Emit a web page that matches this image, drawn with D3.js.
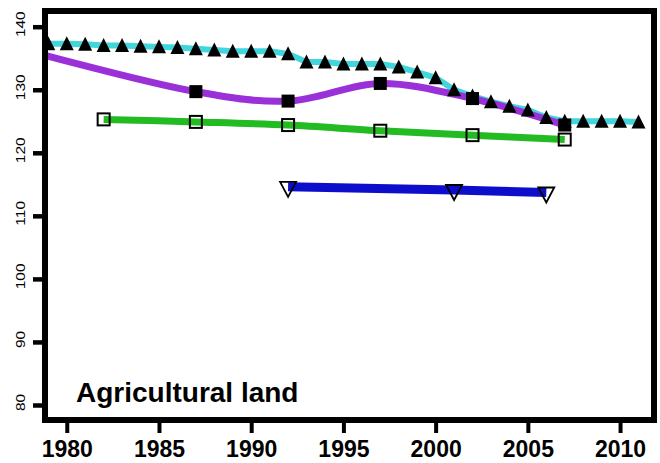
<!DOCTYPE html>
<html>
<head>
<meta charset="utf-8">
<script src="https://cdn.jsdelivr.net/npm/d3@7"></script>
<style>
  html, body { margin: 0; padding: 0; background: #ffffff; }
  svg { display: block; }
  text { font-family: "Liberation Sans", Arial, sans-serif; fill: #000; }
</style>
</head>
<body>
<svg id="chart" width="660" height="463"></svg>
<script>
// Annual series (cyan line, filled triangles)
const annualYears = [1979, 1980, 1981, 1982, 1983, 1984, 1985, 1986, 1987, 1988, 1989,
  1990, 1991, 1992, 1993, 1994, 1995, 1996, 1997, 1998, 1999, 2000, 2001, 2002, 2003,
  2004, 2005, 2006, 2007, 2008, 2009, 2010, 2011];
const annualValues = [137.3, 137.3, 137.2, 137.0, 137.0, 136.9, 136.8, 136.7, 136.5, 136.3, 136.1,
  136.1, 136.1, 135.7, 134.4, 134.4, 134.1, 134.1, 134.1, 133.6, 132.8, 131.9, 130.0, 129.0, 128.1,
  127.4, 126.8, 125.6, 125.0, 125.0, 125.0, 125.0, 124.9];

// Five-yearly series (purple line, filled squares)
const purpleYears = [1977, 1987, 1992, 1997, 2002, 2007];
const purpleValues = [136.9, 129.7, 128.2, 131.0, 128.6, 124.4];

// Five-yearly series (green line, open squares)
const greenYears = [1982, 1987, 1992, 1997, 2002, 2007];
const greenValues = [125.3, 124.9, 124.4, 123.5, 122.8, 122.1];

// Survey series (blue line, open down triangles)
const blueYears = [1992, 2001, 2006];
const blueValues = [114.6, 114.1, 113.7];

const xTicks = [1980, 1985, 1990, 1995, 2000, 2005, 2010];
const yTicks = [80, 90, 100, 110, 120, 130, 140];
const panelLabel = "Agricultural land";

const frame = { left: 45, top: 11, right: 654, bottom: 420 };
const svg = d3.select("#chart");

const x = d3.scaleLinear().domain([1978.82, 2011.84]).range([frame.left, frame.right]);
const y = d3.scaleLinear().domain([77.62, 142.49]).range([frame.bottom, frame.top]);

svg.append("defs").append("clipPath").attr("id", "plotClip")
  .append("rect")
  .attr("x", frame.left).attr("y", frame.top)
  .attr("width", frame.right - frame.left).attr("height", frame.bottom - frame.top);

const plot = svg.append("g").attr("clip-path", "url(#plotClip)");

const pts = (yrs, vals) => yrs.map((yr, i) => [yr, vals[i]]);
const annual = pts(annualYears, annualValues);
const purple = pts(purpleYears, purpleValues);
const green = pts(greenYears, greenValues);
const blue = pts(blueYears, blueValues);

const straight = d3.line().x(d => x(d[0])).y(d => y(d[1]));
const smooth = d3.line().x(d => x(d[0])).y(d => y(d[1])).curve(d3.curveCatmullRom);

plot.append("path").attr("d", straight(annual))
  .attr("fill", "none").attr("stroke", "#42d6dc").attr("stroke-width", 6);
plot.append("path").attr("d", smooth(purple))
  .attr("fill", "none").attr("stroke", "#9a30d8").attr("stroke-width", 7);
plot.append("path").attr("d", smooth(green))
  .attr("fill", "none").attr("stroke", "#22bb22").attr("stroke-width", 7);
plot.append("path").attr("d", straight(blue))
  .attr("fill", "none").attr("stroke", "#0d0dcc").attr("stroke-width", 9);

// filled up-triangles
plot.append("g").selectAll("path").data(annual).join("path")
  .attr("transform", d => `translate(${x(d[0])},${y(d[1])})`)
  .attr("d", "M0,-7.5L7,6.5L-7,6.5Z")
  .attr("fill", "#000");

// filled squares
plot.append("g").selectAll("rect").data(purple).join("rect")
  .attr("x", d => x(d[0]) - 6.5).attr("y", d => y(d[1]) - 6.5)
  .attr("width", 13).attr("height", 13)
  .attr("fill", "#000");

// open squares
plot.append("g").selectAll("rect").data(green).join("rect")
  .attr("x", d => x(d[0]) - 6).attr("y", d => y(d[1]) - 6)
  .attr("width", 12).attr("height", 12)
  .attr("fill", "none").attr("stroke", "#000").attr("stroke-width", 2);

// open down-triangles
plot.append("g").selectAll("path").data(blue).join("path")
  .attr("transform", d => `translate(${x(d[0])},${y(d[1])})`)
  .attr("d", "M-8,-5L8,-5L0,10Z")
  .attr("fill", "none").attr("stroke", "#000").attr("stroke-width", 1.8);

// axes
const xAxis = svg.append("g")
  .attr("transform", `translate(0,${frame.bottom})`)
  .call(d3.axisBottom(x).tickValues(xTicks).tickFormat(d3.format("d"))
    .tickSize(13).tickPadding(8));
xAxis.select(".domain").remove();
xAxis.selectAll(".tick line").attr("stroke", "#000").attr("stroke-width", 4);
xAxis.selectAll(".tick text")
  .attr("font-size", 23).attr("font-weight", "bold")
  .attr("font-family", "'Liberation Sans', Arial, sans-serif").attr("fill", "#000");

const yAxis = svg.append("g")
  .attr("transform", `translate(${frame.left},0)`)
  .call(d3.axisLeft(y).tickValues(yTicks).tickFormat(d3.format("d")).tickSize(12));
yAxis.select(".domain").remove();
yAxis.selectAll(".tick line").attr("stroke", "#000").attr("stroke-width", 4.5);
yAxis.selectAll(".tick text")
  .attr("x", null).attr("dy", null)
  .attr("transform", "translate(-24,-3) rotate(-90) scale(1,0.8)")
  .attr("text-anchor", "middle").attr("dominant-baseline", "central")
  .attr("font-size", 15.5)
  .attr("font-family", "'Liberation Sans', Arial, sans-serif").attr("fill", "#000");

// frame
svg.append("rect")
  .attr("x", frame.left).attr("y", frame.top)
  .attr("width", frame.right - frame.left).attr("height", frame.bottom - frame.top)
  .attr("fill", "none").attr("stroke", "#000").attr("stroke-width", 6);

svg.append("text")
  .attr("x", 76).attr("y", 402)
  .attr("font-size", 28).attr("font-weight", "bold")
  .text(panelLabel);
</script>
</body>
</html>
